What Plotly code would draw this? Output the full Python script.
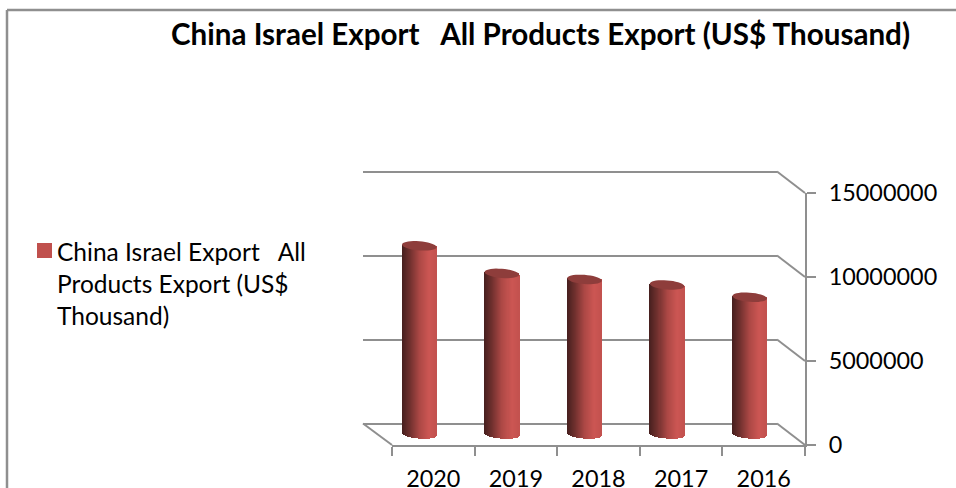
import math
import plotly.graph_objects as go

# ---- data ----
years = ["2020", "2019", "2018", "2017", "2016"]
export_values = [11200000, 9560000, 9200000, 8870000, 8140000]
y_ticks = [0, 5000000, 10000000, 15000000]
series_name = "China Israel Export   All<br>Products Export (US$<br>Thousand)"
title_text = "China Israel Export   All Products Export (US$ Thousand)"

W, H = 956, 488
FONT = "Lato"
GREY = "#8f8f8f"
PX_PER_UNIT = 84 / 5000000


def fx(p):
    return p / W


def fy(p):
    return 1 - p / H


def xdom(a, b):
    return [fx(a), fx(b)]


def ydom(top, bottom):
    return [fy(bottom), fy(top)]


def lerp_colour(t):
    stops = [(0.0, (72, 32, 31)), (0.22, (112, 48, 46)), (0.5, (172, 72, 69)),
             (0.78, (204, 86, 83)), (1.0, (194, 81, 78))]
    for (a, ca), (b, cb) in zip(stops, stops[1:]):
        if t <= b:
            f = (t - a) / (b - a)
            c = [round(p + (q - p) * f) for p, q in zip(ca, cb)]
            return "rgb(%d,%d,%d)" % tuple(c)
    return "rgb(194,81,78)"


fig = go.Figure()

# front axes: carry the ticks and labels
fig.add_trace(go.Scatter(x=years, y=export_values, mode="none", xaxis="x", yaxis="y",
                         showlegend=False, hoverinfo="skip"))
# back wall axes: carry the gridlines
fig.add_trace(go.Scatter(x=years, y=export_values, mode="none", xaxis="x2", yaxis="y2",
                         showlegend=False, hoverinfo="skip"))

# cylinders: gradient strips on the mid-depth axes
half = 0.209          # half cylinder width, category units
ry = 4.6 / PX_PER_UNIT  # elliptical depth in value units
tilt = 1.3 / PX_PER_UNIT
positions = list(range(len(years)))

fig.add_trace(go.Bar(x=positions, y=export_values, width=2 * half, xaxis="x3", yaxis="y3",
                     marker=dict(color="#C0504D", line=dict(width=0)), name=series_name,
                     showlegend=False, hoverinfo="x+y"))
N = 34
for k in range(N):
    t0 = k / N
    u = 2 * (t0 + 0.5 / N) - 1
    drop = math.sqrt(max(0, 1 - u * u)) * ry + u * tilt
    rise = -u * tilt
    fig.add_trace(go.Bar(
        x=positions,
        base=[-drop] * len(years),
        y=[v + rise + drop for v in export_values],
        offset=-half + t0 * 2 * half,
        width=2 * half / N + 0.002,
        xaxis="x3", yaxis="y3",
        marker=dict(color=lerp_colour(t0), line=dict(width=0)),
        showlegend=False, hoverinfo="skip"))

shapes = []
# top caps
for i, v in enumerate(export_values):
    pts = []
    for a in range(0, 360, 10):
        ca, sa = math.cos(math.radians(a)), math.sin(math.radians(a))
        pts.append((i + half * ca, v + ry * sa - tilt * ca))
    path = "M" + "L".join(f"{x:.4f},{y:.1f}" for x, y in pts) + "Z"
    shapes.append(dict(type="path", path=path, xref="x3", yref="y3", layer="above",
                       fillcolor="#8E3D3B", line=dict(width=0)))

# chart frame (left and top edge only visible in the crop)
line = dict(color=GREY, width=2.5)
shapes.append(dict(type="line", xref="paper", yref="paper", x0=fx(7), x1=fx(7), y0=0, y1=fy(10), line=line))
shapes.append(dict(type="line", xref="paper", yref="paper", x0=fx(7), x1=1, y0=fy(10), y1=fy(10), line=line))

# depth connectors of the 3-D box
wall = dict(color=GREY, width=2)
for k in range(4):
    yb = 423.5 - k * 84
    yf = 445 - k * 84
    shapes.append(dict(type="line", xref="paper", yref="paper", layer="below",
                       x0=fx(777), x1=fx(805), y0=fy(yb), y1=fy(yf), line=wall))
shapes.append(dict(type="line", xref="paper", yref="paper", layer="below",
                   x0=fx(363), x1=fx(392), y0=fy(423.5), y1=fy(445), line=wall))

# legend key
shapes.append(dict(type="rect", xref="paper", yref="paper", x0=fx(37), x1=fx(52), y0=fy(258), y1=fy(243),
                   fillcolor="#C0504D", line=dict(width=0)))

axis_font = dict(family=FONT, size=23.4, color="#000000")
fig.update_layout(
    width=W, height=H, margin=dict(l=0, r=0, t=0, b=0, autoexpand=False),
    paper_bgcolor="white", plot_bgcolor="rgba(0,0,0,0)",
    barmode="overlay", bargap=0, showlegend=False,
    shapes=shapes,
    annotations=[dict(text=series_name, xref="paper", yref="paper", x=fx(55), y=fy(283), xanchor="left",
                      yanchor="middle", align="left", showarrow=False,
                      font=dict(family=FONT, size=24.5, color="#000000"))],
    title=dict(text="<b>" + title_text + "</b>", x=fx(540.5), xanchor="center", y=fy(35), yanchor="middle",
               font=dict(family=FONT, size=29.6, color="#000000")),
    xaxis=dict(domain=xdom(392, 805), type="category", categoryorder="array", categoryarray=years,
               range=[-0.5, 4.5], tickson="boundaries", ticks="outside", ticklen=9, tickwidth=2,
               tickcolor=GREY, showline=True, linecolor=GREY, linewidth=2, showgrid=False,
               tickfont=axis_font, ticklabelstandoff=12, anchor="y", fixedrange=True),
    yaxis=dict(domain=ydom(193, 445), range=[0, 15000000], side="right", tickmode="array",
               tickvals=y_ticks, ticktext=[str(v) for v in y_ticks], ticks="outside", ticklen=9, tickwidth=2,
               tickcolor=GREY, showline=True, linecolor=GREY, linewidth=2, showgrid=False,
               tickfont=axis_font, ticklabelstandoff=8, anchor="x", fixedrange=True, zeroline=False),
    xaxis2=dict(domain=xdom(363, 777), type="category", categoryorder="array", categoryarray=years,
                range=[-0.5, 4.5], showgrid=False, showticklabels=False, ticks="", showline=False,
                anchor="y2", fixedrange=True),
    # range runs slightly past the top tick so that its gridline is kept; the domain grows to match
    yaxis2=dict(domain=ydom(171.5 - 100000 * PX_PER_UNIT, 423.5), range=[0, 15100000], tickvals=y_ticks, showgrid=True,
                gridcolor=GREY, gridwidth=2, showticklabels=False, ticks="", zeroline=True,
                zerolinecolor=GREY, zerolinewidth=2, showline=False, anchor="x2", fixedrange=True),
    xaxis3=dict(domain=xdom(378, 791), range=[-0.5, 4.5], visible=False, anchor="y3", fixedrange=True),
    # range runs below zero so that the rounded cylinder feet are not cut; the domain grows to match
    yaxis3=dict(domain=ydom(182, 434 + 1000000 * PX_PER_UNIT), range=[-1000000, 15000000], visible=False,
                anchor="x3", fixedrange=True),
)

fig.write_html("out.html", config=dict(displayModeBar=False),
               post_script="document.body.style.margin='0';document.documentElement.style.overflow='hidden';")
